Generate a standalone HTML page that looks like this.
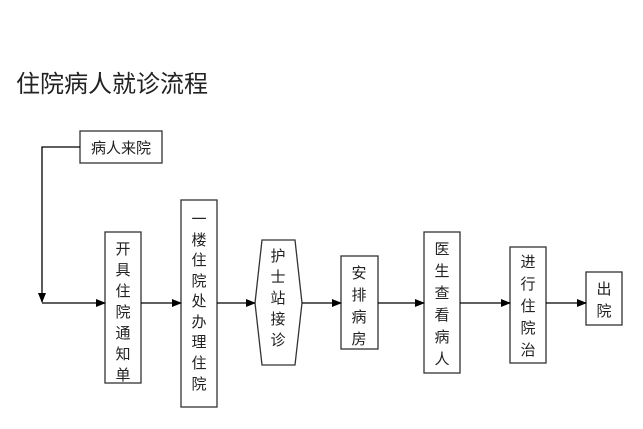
<!DOCTYPE html>
<html><head><meta charset="utf-8"><style>
body{margin:0;background:#fff;}
svg text{font-family:"Liberation Sans","Noto Sans CJK SC",sans-serif;fill:#222;}
</style></head><body>
<svg width="643" height="424" viewBox="0 0 643 424" xmlns="http://www.w3.org/2000/svg">
<defs><marker id="a" markerWidth="10" markerHeight="8" refX="9" refY="4" orient="auto" markerUnits="userSpaceOnUse"><path d="M0,0 L10,4 L0,8 z" fill="#000"/></marker></defs>
<text x="16" y="92" font-size="24" fill="#333">住院病人就诊流程</text>
<g fill="#fff" stroke="#333" stroke-width="1.3">
<rect x="80" y="131" width="82" height="32"/>
<rect x="105" y="232" width="36" height="151"/>
<rect x="181" y="200" width="36" height="207"/>
<polygon points="262,240 295,240 302,303 295,365 262,365 255,303"/>
<rect x="341" y="256" width="37" height="93"/>
<rect x="424" y="232" width="36" height="141"/>
<rect x="510" y="247" width="36" height="116"/>
<rect x="586" y="272" width="36" height="53"/>
</g>
<g stroke="#000" stroke-width="1.3" fill="none">
<polyline points="80,147 42,147 42,302" marker-end="url(#a)"/>
<line x1="42" y1="303" x2="105" y2="303" marker-end="url(#a)"/>
<line x1="141" y1="303" x2="181" y2="303" marker-end="url(#a)"/>
<line x1="217" y1="303" x2="255" y2="303" marker-end="url(#a)"/>
<line x1="302" y1="303" x2="341" y2="303" marker-end="url(#a)"/>
<line x1="378" y1="303" x2="424" y2="303" marker-end="url(#a)"/>
<line x1="460" y1="303" x2="510" y2="303" marker-end="url(#a)"/>
<line x1="546" y1="303" x2="586" y2="303" marker-end="url(#a)"/>
</g>
<g font-size="15" text-anchor="middle">
<text x="121" y="153">病人来院</text>
<text x="123" y="254">开</text><text x="123" y="275">具</text><text x="123" y="296">住</text><text x="123" y="317">院</text><text x="123" y="338">通</text><text x="123" y="359">知</text><text x="123" y="380">单</text>
<text x="199" y="224">一</text><text x="199" y="245">楼</text><text x="199" y="265">住</text><text x="199" y="286">院</text><text x="199" y="306">处</text><text x="199" y="327">办</text><text x="199" y="347">理</text><text x="199" y="368">住</text><text x="199" y="389">院</text>
<text x="278" y="261">护</text><text x="278" y="282">士</text><text x="278" y="303">站</text><text x="278" y="324">接</text><text x="278" y="345">诊</text>
<text x="359" y="278">安</text><text x="359" y="300">排</text><text x="359" y="322">病</text><text x="359" y="344">房</text>
<text x="442" y="254">医</text><text x="442" y="276">生</text><text x="442" y="298">查</text><text x="442" y="320">看</text><text x="442" y="342">病</text><text x="442" y="364">人</text>
<text x="528" y="267">进</text><text x="528" y="289">行</text><text x="528" y="311">住</text><text x="528" y="333">院</text><text x="528" y="355">治</text>
<text x="604" y="294">出</text><text x="604" y="316">院</text>
</g>
</svg>
</body></html>
